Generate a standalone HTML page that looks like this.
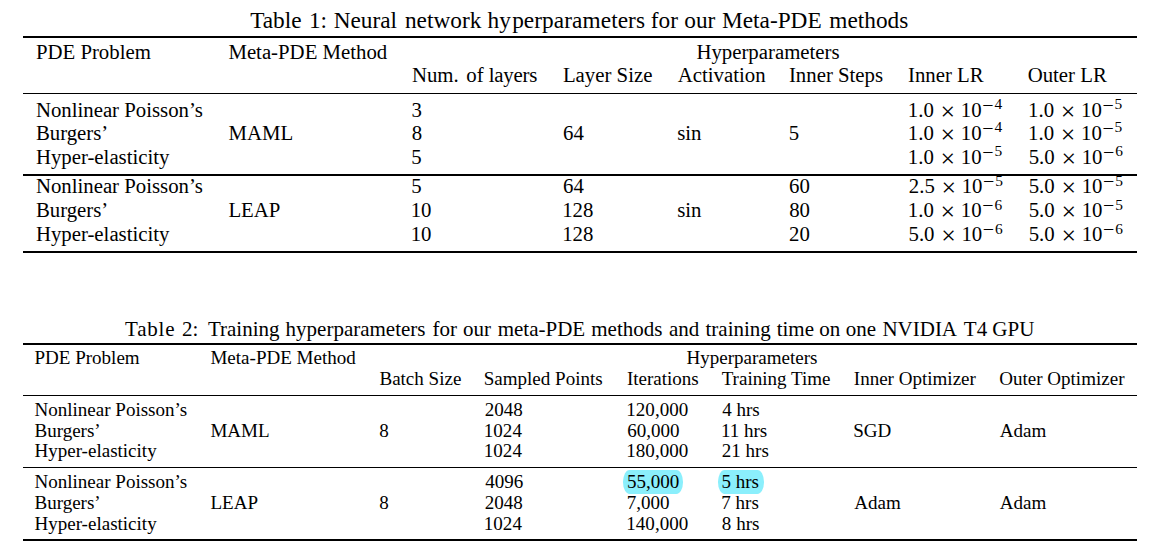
<!DOCTYPE html>
<html lang="en"><head><meta charset="utf-8"><title>Tables</title>
<style>
html,body{margin:0;padding:0;background:#fff;}
body{width:1153px;height:556px;position:relative;overflow:hidden;
 font-family:"Liberation Serif","Times New Roman",serif;color:#000;}
.t{position:absolute;white-space:nowrap;}
.r{position:absolute;left:23px;width:1114px;background:#000;}
.h{position:absolute;background:#8beffc;border-radius:6.6px/11.8px;}
.sci sup{font-size:15.4px;line-height:0;vertical-align:baseline;position:relative;top:-8px;letter-spacing:.5px}
.sci .mn{font-size:20px;line-height:0;position:relative;top:3px;margin-left:.6px;letter-spacing:.9px}
.lo sup{top:-7px}
.lo .mn{top:2px}
.sci .tm{font-size:25.8px;line-height:0;position:relative;top:3.4px;margin:0 5.7px 0 6.7px;}
</style></head><body>

<div class="h" style="left:622.5px;top:470px;width:60.8px;height:23.6px"></div>
<div class="h" style="left:717.5px;top:470px;width:46.0px;height:23.6px"></div>
<div class="r" style="top:36px;height:2px"></div>
<div class="r" style="top:92.75px;height:1px"></div>
<div class="r" style="top:174px;height:1.6px"></div>
<div class="r" style="top:251px;height:2px"></div>
<div class="r" style="top:343px;height:2px"></div>
<div class="r" style="top:395px;height:1px"></div>
<div class="r" style="top:467px;height:1px"></div>
<div class="r" style="top:539px;height:2px"></div>
<div class="t" style="left:250.18px;top:7px;font-size:23.3px;line-height:26px">Table</div>
<div class="t" style="left:308.95px;top:7px;font-size:23.3px;line-height:26px">1:</div>
<div class="t" style="left:333.63px;top:7px;font-size:23.3px;line-height:26px">Neural</div>
<div class="t" style="left:404.97px;top:7px;font-size:23.3px;line-height:26px">network</div>
<div class="t" style="left:487.47px;top:7px;font-size:23.3px;line-height:26px"><span style="letter-spacing:.08px">hy<span style="margin-left:1.2px">perparameters</span></span></div>
<div class="t" style="left:650.78px;top:7px;font-size:23.3px;line-height:26px">for</div>
<div class="t" style="left:684.31px;top:7px;font-size:23.3px;line-height:26px">our</div>
<div class="t" style="left:722.03px;top:7px;font-size:23.3px;line-height:26px">Meta-PDE</div>
<div class="t" style="left:829.31px;top:7px;font-size:23.3px;line-height:26px">methods</div>
<div class="t" style="left:35.90px;top:40px;font-size:20.8px;line-height:23px">PDE Problem</div>
<div class="t" style="left:228.40px;top:40px;font-size:20.8px;line-height:23px">Meta-PDE Method</div>
<div class="t" style="left:696.40px;top:40px;font-size:20.8px;line-height:23px">Hyperparameters</div>
<div class="t" style="left:411.90px;top:63px;font-size:20.8px;line-height:23px">Num. <span style="margin-left:2.4px">of</span> <span style="letter-spacing:-.25px">layers</span></div>
<div class="t" style="left:562.90px;top:63px;font-size:20.8px;line-height:23px">Layer Size</div>
<div class="t" style="left:677.80px;top:63px;font-size:20.8px;line-height:23px">Activation</div>
<div class="t" style="left:788.95px;top:63px;font-size:20.8px;line-height:23px">Inner Steps</div>
<div class="t" style="left:908.05px;top:63px;font-size:20.8px;line-height:23px">Inner LR</div>
<div class="t" style="left:1027.65px;top:63px;font-size:20.8px;line-height:23px">Outer LR</div>
<div class="t" style="left:35.90px;top:98px;font-size:20.8px;line-height:23px">Nonlinear Poisson’s</div>
<div class="t" style="left:35.90px;top:121px;font-size:20.8px;line-height:23px">Burgers’</div>
<div class="t" style="left:35.90px;top:145px;font-size:20.8px;line-height:23px">Hyper-elasticity</div>
<div class="t" style="left:35.90px;top:174px;font-size:20.8px;line-height:23px">Nonlinear Poisson’s</div>
<div class="t" style="left:35.90px;top:198px;font-size:20.8px;line-height:23px">Burgers’</div>
<div class="t" style="left:35.90px;top:222px;font-size:20.8px;line-height:23px">Hyper-elasticity</div>
<div class="t" style="left:228.40px;top:121px;font-size:20.8px;line-height:23px">MAML</div>
<div class="t" style="left:228.40px;top:198px;font-size:20.8px;line-height:23px">LEAP</div>
<div class="t" style="left:411.50px;top:98px;font-size:20.8px;line-height:23px">3</div>
<div class="t" style="left:411.71px;top:121px;font-size:20.8px;line-height:23px">8</div>
<div class="t" style="left:411.29px;top:145px;font-size:20.8px;line-height:23px">5</div>
<div class="t" style="left:411.29px;top:174px;font-size:20.8px;line-height:23px">5</div>
<div class="t" style="left:410.67px;top:198px;font-size:20.8px;line-height:23px">10</div>
<div class="t" style="left:410.67px;top:222px;font-size:20.8px;line-height:23px">10</div>
<div class="t" style="left:563.11px;top:121px;font-size:20.8px;line-height:23px">64</div>
<div class="t" style="left:563.11px;top:174px;font-size:20.8px;line-height:23px">64</div>
<div class="t" style="left:562.17px;top:198px;font-size:20.8px;line-height:23px">128</div>
<div class="t" style="left:562.17px;top:222px;font-size:20.8px;line-height:23px">128</div>
<div class="t" style="left:677.15px;top:121px;font-size:20.8px;line-height:23px">sin</div>
<div class="t" style="left:677.15px;top:198px;font-size:20.8px;line-height:23px">sin</div>
<div class="t" style="left:788.79px;top:121px;font-size:20.8px;line-height:23px">5</div>
<div class="t" style="left:789.11px;top:174px;font-size:20.8px;line-height:23px">60</div>
<div class="t" style="left:789.21px;top:198px;font-size:20.8px;line-height:23px">80</div>
<div class="t" style="left:789.09px;top:222px;font-size:20.8px;line-height:23px">20</div>
<div class="t sci" style="left:907.87px;top:98px;font-size:20.8px;line-height:23px">1.0<span class="tm">×</span>10<sup><span class="mn">−</span>4</sup></div>
<div class="t sci" style="left:907.87px;top:121px;font-size:20.8px;line-height:23px">1.0<span class="tm">×</span>10<sup><span class="mn">−</span>4</sup></div>
<div class="t sci" style="left:907.87px;top:145px;font-size:20.8px;line-height:23px">1.0<span class="tm">×</span>10<sup><span class="mn">−</span>5</sup></div>
<div class="t sci lo" style="left:908.79px;top:174px;font-size:20.8px;line-height:23px">2.5<span class="tm">×</span>10<sup><span class="mn">−</span>5</sup></div>
<div class="t sci lo" style="left:907.87px;top:198px;font-size:20.8px;line-height:23px">1.0<span class="tm">×</span>10<sup><span class="mn">−</span>6</sup></div>
<div class="t sci lo" style="left:908.49px;top:222px;font-size:20.8px;line-height:23px">5.0<span class="tm">×</span>10<sup><span class="mn">−</span>6</sup></div>
<div class="t sci" style="left:1028.07px;top:98px;font-size:20.8px;line-height:23px">1.0<span class="tm">×</span>10<sup><span class="mn">−</span>5</sup></div>
<div class="t sci" style="left:1028.07px;top:121px;font-size:20.8px;line-height:23px">1.0<span class="tm">×</span>10<sup><span class="mn">−</span>5</sup></div>
<div class="t sci" style="left:1028.69px;top:145px;font-size:20.8px;line-height:23px">5.0<span class="tm">×</span>10<sup><span class="mn">−</span>6</sup></div>
<div class="t sci lo" style="left:1028.69px;top:174px;font-size:20.8px;line-height:23px">5.0<span class="tm">×</span>10<sup><span class="mn">−</span>5</sup></div>
<div class="t sci lo" style="left:1028.69px;top:198px;font-size:20.8px;line-height:23px">5.0<span class="tm">×</span>10<sup><span class="mn">−</span>5</sup></div>
<div class="t sci lo" style="left:1028.69px;top:222px;font-size:20.8px;line-height:23px">5.0<span class="tm">×</span>10<sup><span class="mn">−</span>6</sup></div>
<div class="t" style="left:125.02px;top:317px;font-size:21.0px;line-height:24px"><span style="letter-spacing:.8px">Table</span></div>
<div class="t" style="left:181.88px;top:317px;font-size:21.0px;line-height:24px">2:</div>
<div class="t" style="left:207.92px;top:317px;font-size:21.0px;line-height:24px">Training</div>
<div class="t" style="left:285.59px;top:317px;font-size:21.0px;line-height:24px">hyperparameters</div>
<div class="t" style="left:432.45px;top:317px;font-size:21.0px;line-height:24px">for</div>
<div class="t" style="left:462.90px;top:317px;font-size:21.0px;line-height:24px">our</div>
<div class="t" style="left:497.66px;top:317px;font-size:21.0px;line-height:24px">meta-PDE</div>
<div class="t" style="left:591.26px;top:317px;font-size:21.0px;line-height:24px">methods</div>
<div class="t" style="left:669.06px;top:317px;font-size:21.0px;line-height:24px">and</div>
<div class="t" style="left:705.49px;top:317px;font-size:21.0px;line-height:24px">training</div>
<div class="t" style="left:776.69px;top:317px;font-size:21.0px;line-height:24px">time</div>
<div class="t" style="left:819.20px;top:317px;font-size:21.0px;line-height:24px">on</div>
<div class="t" style="left:845.70px;top:317px;font-size:21.0px;line-height:24px">one</div>
<div class="t" style="left:882.40px;top:317px;font-size:21.0px;line-height:24px">NVIDIA</div>
<div class="t" style="left:963.82px;top:317px;font-size:21.0px;line-height:24px">T4</div>
<div class="t" style="left:992.34px;top:317px;font-size:21.0px;line-height:24px">GPU</div>
<div class="t" style="left:34.45px;top:347px;font-size:19.05px;line-height:21px">PDE Problem</div>
<div class="t" style="left:210.45px;top:347px;font-size:19.05px;line-height:21px">Meta-PDE Method</div>
<div class="t" style="left:686.45px;top:347px;font-size:19.05px;line-height:21px">Hyperparameters</div>
<div class="t" style="left:379.45px;top:368px;font-size:19.05px;line-height:21px">Batch Size</div>
<div class="t" style="left:483.73px;top:368px;font-size:19.05px;line-height:21px">Sampled Points</div>
<div class="t" style="left:626.91px;top:368px;font-size:19.05px;line-height:21px">Iterations</div>
<div class="t" style="left:721.66px;top:368px;font-size:19.05px;line-height:21px">Training Time</div>
<div class="t" style="left:853.81px;top:368px;font-size:19.05px;line-height:21px">Inner Optimizer</div>
<div class="t" style="left:999.22px;top:368px;font-size:19.05px;line-height:21px">Outer Optimizer</div>
<div class="t" style="left:34.45px;top:399px;font-size:19.05px;line-height:21px">Nonlinear Poisson’s</div>
<div class="t" style="left:34.45px;top:420px;font-size:19.05px;line-height:21px">Burgers’</div>
<div class="t" style="left:34.45px;top:440px;font-size:19.05px;line-height:21px">Hyper-elasticity</div>
<div class="t" style="left:34.45px;top:471px;font-size:19.05px;line-height:21px">Nonlinear Poisson’s</div>
<div class="t" style="left:34.45px;top:492px;font-size:19.05px;line-height:21px">Burgers’</div>
<div class="t" style="left:34.45px;top:513px;font-size:19.05px;line-height:21px">Hyper-elasticity</div>
<div class="t" style="left:210.45px;top:420px;font-size:19.05px;line-height:21px">MAML</div>
<div class="t" style="left:210.45px;top:492px;font-size:19.05px;line-height:21px">LEAP</div>
<div class="t" style="left:379.27px;top:420px;font-size:19.05px;line-height:21px">8</div>
<div class="t" style="left:379.27px;top:492px;font-size:19.05px;line-height:21px">8</div>
<div class="t" style="left:484.66px;top:399px;font-size:19.05px;line-height:21px">2048</div>
<div class="t" style="left:483.83px;top:420px;font-size:19.05px;line-height:21px">1024</div>
<div class="t" style="left:483.83px;top:440px;font-size:19.05px;line-height:21px">1024</div>
<div class="t" style="left:485.13px;top:471px;font-size:19.05px;line-height:21px">4096</div>
<div class="t" style="left:484.66px;top:492px;font-size:19.05px;line-height:21px">2048</div>
<div class="t" style="left:483.83px;top:513px;font-size:19.05px;line-height:21px">1024</div>
<div class="t" style="left:626.33px;top:399px;font-size:19.05px;line-height:21px">120,000</div>
<div class="t" style="left:627.18px;top:420px;font-size:19.05px;line-height:21px">60,000</div>
<div class="t" style="left:626.33px;top:440px;font-size:19.05px;line-height:21px">180,000</div>
<div class="t" style="left:626.89px;top:471px;font-size:19.05px;line-height:21px">55,000</div>
<div class="t" style="left:626.74px;top:492px;font-size:19.05px;line-height:21px">7,000</div>
<div class="t" style="left:626.33px;top:513px;font-size:19.05px;line-height:21px">140,000</div>
<div class="t" style="left:722.23px;top:399px;font-size:19.05px;line-height:21px">4 hrs</div>
<div class="t" style="left:720.93px;top:420px;font-size:19.05px;line-height:21px">11 hrs</div>
<div class="t" style="left:721.76px;top:440px;font-size:19.05px;line-height:21px">21 hrs</div>
<div class="t" style="left:721.49px;top:471px;font-size:19.05px;line-height:21px">5 hrs</div>
<div class="t" style="left:721.34px;top:492px;font-size:19.05px;line-height:21px">7 hrs</div>
<div class="t" style="left:721.87px;top:513px;font-size:19.05px;line-height:21px">8 hrs</div>
<div class="t" style="left:853.23px;top:420px;font-size:19.05px;line-height:21px">SGD</div>
<div class="t" style="left:854.31px;top:492px;font-size:19.05px;line-height:21px">Adam</div>
<div class="t" style="left:999.81px;top:420px;font-size:19.05px;line-height:21px">Adam</div>
<div class="t" style="left:999.81px;top:492px;font-size:19.05px;line-height:21px">Adam</div>
</body></html>
